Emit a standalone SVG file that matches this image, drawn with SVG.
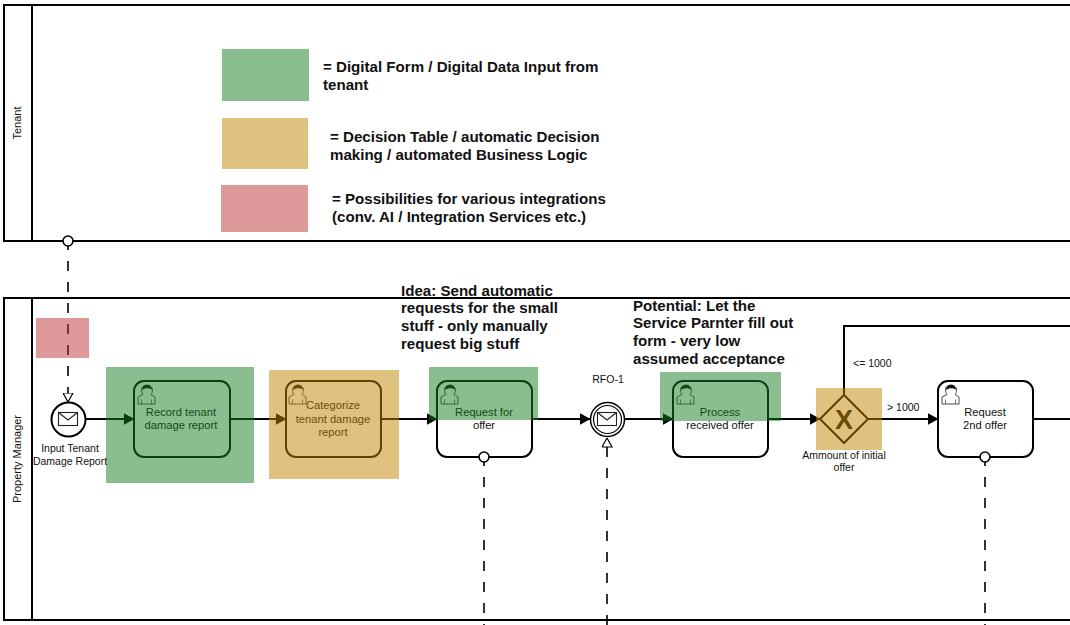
<svg xmlns="http://www.w3.org/2000/svg" xmlns:xlink="http://www.w3.org/1999/xlink" width="1070" height="625" viewBox="0 0 1070 625">
<style>
text{font-family:"Liberation Sans",Arial,sans-serif;fill:#111}
.s{font-size:11.2px;text-anchor:middle}
.c{font-size:10.500px}
.b{font-size:15.100px;font-weight:bold}
.l{fill:none;stroke:#000;stroke-width:2}
.d{fill:none;stroke:#000;stroke-width:1.600;stroke-dasharray:10 11}
.pool{fill:none;stroke:#000;stroke-width:2}
.task{fill:#fff;stroke:#000;stroke-width:2}
.g{fill:#157b21;fill-opacity:.5}
.a{fill:#bf8301;fill-opacity:.5}
.r{fill:#bd3535;fill-opacity:.5}
.o{fill:#fff;stroke:#000;stroke-width:1.600}
</style>
<defs>
<marker id="tri" markerWidth="11" markerHeight="12" refX="10.500" refY="6" orient="auto" markerUnits="userSpaceOnUse"><path d="M0 0L11 6L0 12Z" fill="#000"/></marker>
<marker id="open" markerWidth="10" markerHeight="11" refX="9.500" refY="5.500" orient="auto" markerUnits="userSpaceOnUse"><path d="M0.500 .5L9.500 5.500L.5 10.500Z" fill="#fff" stroke="#000" stroke-width="1.200"/></marker>
<g id="person">
<path d="M0 19V12L5 9.500C3 7 3 2.500 5 1.500C7 -.5 11 -.5 13 1.500C15 3 15 7 13 9.500L17 12V19Z" fill="#fff" stroke="#222" stroke-width=".8"/>
<path d="M4.200 5C4 1 6.500 0 9 0C12 0 14 1.500 13.800 5C12 2.800 7 2.800 4.200 5Z" fill="#111"/>
<path d="M3.500 19V14.500M13.500 19V14.500" stroke="#222" stroke-width=".6"/>
</g>
<g id="env">
<rect x="-9.500" y="-6.500" width="19" height="13" fill="#fff" stroke="#222" stroke-width="1.100"/>
<path d="M-9.500 -6.500L0 1L9.500 -6.500" fill="none" stroke="#222" stroke-width="1.100"/>
</g>
</defs>

<g id="pool-tenant">
<path class="pool" d="M1071 5H4V241H1071M32 5V241"/>
<text class="c" style="font-size:11px" transform="translate(21 123) rotate(-90)" text-anchor="middle">Tenant</text>
</g>
<g id="pool-property-manager">
<path class="pool" d="M1071 298H4V620H1071M32 298V620"/>
<text class="c" style="font-size:11px" transform="translate(21 459) rotate(-90)" text-anchor="middle">Property Manager</text>
</g>

<g id="connectors">
<path class="d" d="M68 240V402" marker-end="url(#open)"/>
<path class="l" d="M86 419H134" marker-end="url(#tri)"/>
<path class="l" d="M230 419H286" marker-end="url(#tri)"/>
<path class="l" d="M381 419H437" marker-end="url(#tri)"/>
<path class="l" d="M532 419H590" marker-end="url(#tri)"/>
<path class="l" d="M625 419H673" marker-end="url(#tri)"/>
<path class="l" d="M768 419H820" marker-end="url(#tri)"/>
<path class="l" d="M868 419H938" marker-end="url(#tri)"/>
<path class="l" d="M844 395V326H1071"/>
<path class="l" d="M1033 419H1071"/>
<path class="d" d="M484 456V625"/>
<path class="d" d="M607 447V625"/>
<path class="d" d="M607 447V438" marker-end="url(#open)"/>
<path class="d" d="M985 456V625"/>
</g>

<g id="message-flow-source">
<circle class="o" cx="68" cy="241" r="5"/>
</g>
<g id="start-event">
<circle cx="68.500" cy="419.500" r="17" fill="#fff" stroke="#000" stroke-width="2"/>
<use xlink:href="#env" href="#env" x="68" y="419"/>
<text class="c" text-anchor="middle" x="70" y="452">Input Tenant</text>
<text class="c" text-anchor="middle" x="70" y="465">Damage Report</text>
</g>
<g id="task-record">
<rect class="task" x="134" y="381" width="96" height="76" rx="10"/>
<use xlink:href="#person" href="#person" x="138" y="385"/>
<text class="s" x="181" y="416">Record tenant</text>
<text class="s" x="181" y="429">damage report</text>
</g>
<g id="task-categorize">
<rect class="task" x="286" y="381" width="95" height="76" rx="10"/>
<use xlink:href="#person" href="#person" x="289" y="385"/>
<text class="s" x="333" y="409">Categorize</text>
<text class="s" x="333" y="423">tenant damage</text>
<text class="s" x="333" y="436">report</text>
</g>
<g id="task-request">
<rect class="task" x="437" y="381" width="95" height="76" rx="10"/>
<use xlink:href="#person" href="#person" x="441" y="385"/>
<text class="s" x="484" y="416">Request for</text>
<text class="s" x="484" y="429">offer</text>
<circle class="o" cx="484" cy="457" r="5"/>
</g>
<g id="event-rfo">
<circle cx="607.500" cy="419.500" r="17" fill="#fff" stroke="#000" stroke-width="1.500"/>
<circle cx="607.500" cy="419.500" r="14" fill="#fff" stroke="#000" stroke-width="1.200"/>
<use xlink:href="#env" href="#env" x="607" y="419"/>
<text class="c" text-anchor="middle" x="608" y="383">RFO-1</text>
</g>
<g id="task-process">
<rect class="task" x="673" y="381" width="95" height="76" rx="10"/>
<use xlink:href="#person" href="#person" x="677" y="385"/>
<text class="s" x="720" y="416">Process</text>
<text class="s" x="720" y="429">received offer</text>
</g>
<g id="gateway">
<path d="M844 395L868 419L844 443L820 419Z" fill="#fff" stroke="#000" stroke-width="2"/>
<text x="844" y="428.500" text-anchor="middle" style="font-size:27px;font-weight:bold">X</text>
<text class="c" text-anchor="middle" x="844" y="459">Ammount of initial</text>
<text class="c" text-anchor="middle" x="844" y="471">offer</text>
</g>
<g id="task-request-2">
<rect class="task" x="938" y="381" width="95" height="76" rx="10"/>
<use xlink:href="#person" href="#person" x="942" y="385"/>
<text class="s" x="985" y="416">Request</text>
<text class="s" x="985" y="429">2nd offer</text>
<circle class="o" cx="985" cy="457" r="5"/>
</g>
<g id="labels">
<text class="c" x="853" y="367">&lt;= 1000</text>
<text class="c" x="887" y="411">&gt; 1000</text>
<text class="b" x="401" y="296">Idea: Send automatic</text>
<text class="b" x="401" y="313">requests for the small</text>
<text class="b" x="401" y="331">stuff - only manually</text>
<text class="b" x="401" y="349">request big stuff</text>
<text class="b" x="633" y="311">Potential: Let the</text>
<text class="b" x="633" y="328">Service Parnter fill out</text>
<text class="b" x="633" y="346">form - very low</text>
<text class="b" x="633" y="364">assumed acceptance</text>
</g>
<g id="legend">
<rect class="g" x="222" y="49" width="87" height="52"/>
<text class="b" x="323" y="72">= Digital Form / Digital Data Input from</text>
<text class="b" x="323" y="90">tenant</text>
<rect class="a" x="222" y="118" width="86" height="51"/>
<text class="b" x="330" y="142">= Decision Table / automatic Decision</text>
<text class="b" x="330" y="160">making / automated Business Logic</text>
<rect class="r" x="221" y="185" width="87" height="47"/>
<text class="b" x="332" y="204">= Possibilities for various integrations</text>
<text class="b" x="332" y="222">(conv. AI / Integration Services etc.)</text>
</g>
<g id="overlays">
<rect class="r" x="36" y="318" width="53" height="40"/>
<rect class="g" x="106" y="367" width="148" height="116"/>
<rect class="a" x="269" y="370" width="130" height="109"/>
<rect class="g" x="429" y="367" width="109" height="53"/>
<rect class="g" x="660" y="372" width="121" height="49"/>
<rect class="a" x="816" y="388" width="66" height="62"/>
</g>
</svg>
